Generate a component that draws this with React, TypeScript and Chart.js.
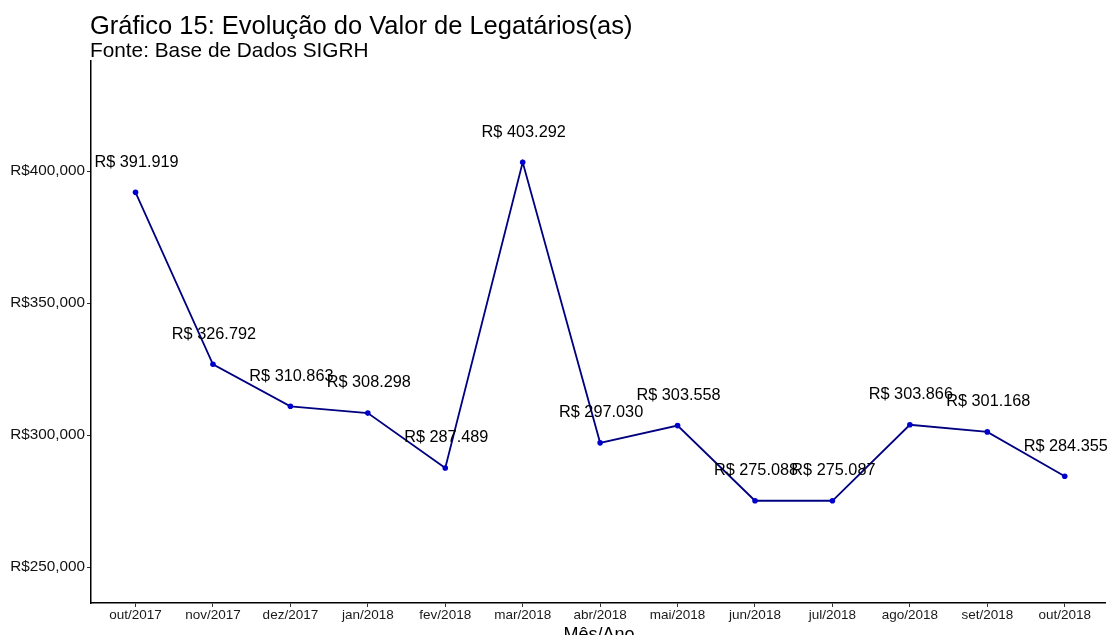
import React, { useEffect, useRef } from "react";
import { Chart, registerables } from "chart.js";

Chart.register(...registerables);

const months = [
  "out/2017", "nov/2017", "dez/2017", "jan/2018", "fev/2018", "mar/2018",
  "abr/2018", "mai/2018", "jun/2018", "jul/2018", "ago/2018", "set/2018", "out/2018",
];
const values = [
  391919, 326792, 310863, 308298, 287489, 403292,
  297030, 303558, 275088, 275087, 303866, 301168, 284355,
];
const yTicks = [250000, 300000, 350000, 400000];
const labelNudge = 12000;

const titleText = "Gráfico 15: Evolução do Valor de Legatários(as)";
const subtitleText = "Fonte: Base de Dados SIGRH";
const xTitleText = "Mês/Ano";

const FONT = "'Liberation Sans', Arial, sans-serif";

const fmtBR = (v: number) =>
  "R$ " + v.toLocaleString("en-US").replace(/,/g, ".");
const fmtAxis = (v: number) => "R$" + v.toLocaleString("en-US");

export default function App() {
  const ref = useRef<HTMLCanvasElement | null>(null);

  useEffect(() => {
    const canvas = ref.current;
    if (!canvas) return;

    const textPlugin = {
      id: "textPlugin",
      afterDatasetsDraw(chart: any) {
        const { ctx, chartArea, scales } = chart;
        const ys = scales.y;
        const xs = scales.x;
        ctx.save();
        // point labels
        ctx.fillStyle = "#000";
        ctx.font = `16.3px ${FONT}`;
        ctx.textAlign = "center";
        ctx.textBaseline = "middle";
        values.forEach((v, i) => {
          ctx.fillText(fmtBR(v), xs.getPixelForValue(i) + 1, ys.getPixelForValue(v + labelNudge) + 1.5);
        });
        // titles
        ctx.textAlign = "left";
        ctx.textBaseline = "alphabetic";
        ctx.font = `25.5px ${FONT}`;
        ctx.fillText(titleText, chartArea.left - 1, 34);
        ctx.font = `20.8px ${FONT}`;
        ctx.fillText(subtitleText, chartArea.left - 1, 57);
        // x axis title
        ctx.textAlign = "center";
        ctx.font = `18px ${FONT}`;
        ctx.fillText(xTitleText, (chartArea.left + chartArea.right) / 2 + 1, 640);
        ctx.restore();
      },
    };

    const chart = new Chart(canvas, {
      type: "line",
      data: {
        datasets: [
          {
            data: values.map((v, i) => ({ x: i, y: v })),
            borderColor: "#000080",
            borderWidth: 1.8,
            pointRadius: 2.8,
            pointBackgroundColor: "#0000CD",
            pointBorderWidth: 0,
            tension: 0,
          },
        ],
      },
      options: {
        responsive: false,
        animation: false,
        layout: { padding: { top: 61, left: 0, right: 1, bottom: 0 } },
        plugins: {
          legend: { display: false },
          tooltip: { enabled: false },
          title: { display: false },
        },
        scales: {
          x: {
            type: "linear",
            min: -0.575,
            max: 12.52,
            afterBuildTicks: (s: any) => {
              s.ticks = months.map((_, i) => ({ value: i }));
            },
            afterFit: (s: any) => {
              s.height = 32;
            },
            ticks: {
              autoSkip: false,
              maxRotation: 0,
              padding: 0,
              color: "#1a1a1a",
              font: { family: FONT, size: 13.5 },
              callback: (v: any) => months[v as number] ?? "",
            },
            grid: {
              drawOnChartArea: false,
              drawTicks: true,
              tickLength: 4,
              color: "#333",
              lineWidth: 1,
            },
            border: { display: true, color: "#000", width: 1.5 },
          },
          y: {
            type: "linear",
            min: 236364,
            max: 441667,
            afterBuildTicks: (s: any) => {
              s.ticks = yTicks.map((v) => ({ value: v }));
            },
            afterFit: (s: any) => {
              s.width = 91;
            },
            ticks: {
              padding: 2,
              color: "#111",
              font: { family: FONT, size: 15.3 },
              callback: (v: any) => fmtAxis(v as number),
            },
            grid: {
              drawOnChartArea: false,
              drawTicks: true,
              tickLength: 4,
              color: "#333",
              lineWidth: 1,
            },
            border: { display: true, color: "#000", width: 1.5 },
          },
        },
      },
      plugins: [textPlugin],
    } as any);

    return () => chart.destroy();
  }, []);

  return (
    <div style={{ position: "absolute", left: 0, top: 0, width: 1109, height: 635, background: "#fff" }}>
      <canvas ref={ref} width={1109} height={635} style={{ display: "block" }} />
    </div>
  );
}
